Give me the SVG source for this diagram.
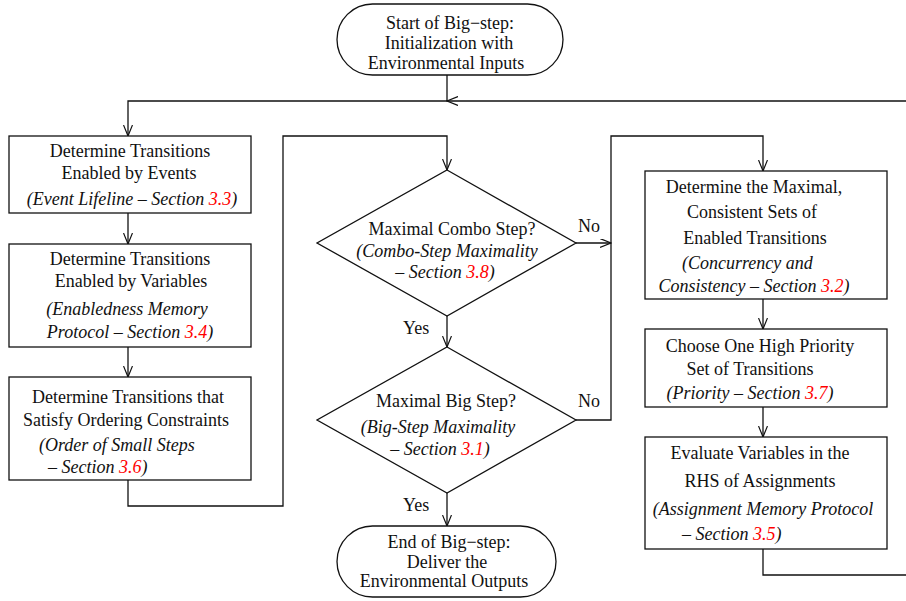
<svg xmlns="http://www.w3.org/2000/svg" width="906" height="601" viewBox="0 0 906 601">
<style>
.box{fill:#fff;stroke:#111;stroke-width:1.3}
.ln{fill:none;stroke:#111;stroke-width:1.3}
text{font-family:"Liberation Serif","Times New Roman",serif;font-size:18px;fill:#111}
.c{text-anchor:middle}
.i{font-style:italic}
.r{fill:#ff0000}
</style>
<defs>
<marker id="arr" markerUnits="userSpaceOnUse" markerWidth="12" markerHeight="10" refX="11" refY="4.5" orient="auto">
<path d="M0,0 L11,4.5 L0,9" fill="none" stroke="#111" stroke-width="1.2"/>
</marker>
</defs>
<rect width="906" height="601" fill="#fff"/>
<g id="connectors">
<path class="ln" d="M447,75 V101"/>
<path class="ln" d="M910,101 H447" marker-end="url(#arr)"/>
<path class="ln" d="M447,101 H128 V136" marker-end="url(#arr)"/>
<path class="ln" d="M128,213 V244" marker-end="url(#arr)"/>
<path class="ln" d="M128,347 V377" marker-end="url(#arr)"/>
<path class="ln" d="M128,480 V506 H283 V136 H447 V170" marker-end="url(#arr)"/>
<path class="ln" d="M447,316 V347" marker-end="url(#arr)"/>
<path class="ln" d="M576,243 H611" marker-end="url(#arr)"/>
<path class="ln" d="M576,420 H611 V136 H763 V171" marker-end="url(#arr)"/>
<path class="ln" d="M763,299 V329" marker-end="url(#arr)"/>
<path class="ln" d="M763,407 V437" marker-end="url(#arr)"/>
<path class="ln" d="M763,549 V575 H910"/>
<path class="ln" d="M447,493 V526" marker-end="url(#arr)"/>
<text x="578" y="232">No</text>
<text x="578" y="407">No</text>
<text x="403" y="334">Yes</text>
<text x="403" y="511">Yes</text>
</g>
<g id="start">
<rect class="box" x="337" y="4" width="226" height="71" rx="35.5"/>
<text class="c" x="450" y="29">Start of Big−step:</text>
<text class="c" x="449" y="49">Initialization with</text>
<text class="c" x="446" y="69">Environmental Inputs</text>
</g>
<g id="events">
<rect class="box" x="9" y="136" width="242" height="77"/>
<text class="c" x="130" y="157">Determine Transitions</text>
<text class="c" x="129" y="179">Enabled by Events</text>
<text class="c i" x="132" y="205">(Event Lifeline – Section <tspan class="r">3.3</tspan>)</text>
</g>
<g id="variables">
<rect class="box" x="9" y="244" width="242" height="103"/>
<text class="c" x="130" y="265">Determine Transitions</text>
<text class="c" x="131" y="287">Enabled by Variables</text>
<text class="c i" x="127" y="315">(Enabledness Memory</text>
<text class="c i" x="130" y="338">Protocol – Section <tspan class="r">3.4</tspan>)</text>
</g>
<g id="ordering">
<rect class="box" x="9" y="377" width="242" height="103"/>
<text class="c" x="128" y="403">Determine Transitions that</text>
<text class="c" x="126" y="426">Satisfy Ordering Constraints</text>
<text class="i" x="39" y="451">(Order of Small Steps</text>
<text class="i" x="48" y="473">– Section <tspan class="r">3.6</tspan>)</text>
</g>
<g id="combo">
<polygon class="box" points="447,170 576,243 447,316 317,243"/>
<text class="c" x="452" y="235">Maximal Combo Step?</text>
<text class="c i" x="447" y="257">(Combo-Step Maximality</text>
<text class="c i" x="445" y="278">– Section <tspan class="r">3.8</tspan>)</text>
</g>
<g id="bigstep">
<polygon class="box" points="447,347 576,420 447,493 317,420"/>
<text class="c" x="446" y="407">Maximal Big Step?</text>
<text class="c i" x="438" y="433">(Big-Step Maximality</text>
<text class="c i" x="440" y="455">– Section <tspan class="r">3.1</tspan>)</text>
</g>
<g id="end">
<rect class="box" x="337" y="526" width="219" height="71" rx="35.5"/>
<text class="c" x="449" y="548">End of Big−step:</text>
<text class="c" x="447" y="568">Deliver the</text>
<text class="c" x="444" y="587">Environmental Outputs</text>
</g>
<g id="maximal">
<rect class="box" x="645" y="171" width="242" height="128"/>
<text class="c" x="754" y="193">Determine the Maximal,</text>
<text class="c" x="752" y="218">Consistent Sets of</text>
<text class="c" x="755" y="244">Enabled Transitions</text>
<text class="i" x="682" y="269">(Concurrency and</text>
<text class="c i" x="754" y="292">Consistency – Section <tspan class="r">3.2</tspan>)</text>
</g>
<g id="priority">
<rect class="box" x="645" y="329" width="242" height="78"/>
<text class="c" x="760" y="352">Choose One High Priority</text>
<text class="c" x="750" y="375">Set of Transitions</text>
<text class="c i" x="750" y="399">(Priority – Section <tspan class="r">3.7</tspan>)</text>
</g>
<g id="evaluate">
<rect class="box" x="645" y="437" width="242" height="112"/>
<text class="c" x="760" y="459">Evaluate Variables in the</text>
<text class="c" x="760" y="487">RHS of Assignments</text>
<text class="c i" x="763" y="515">(Assignment Memory Protocol</text>
<text class="i" x="682" y="540">– Section <tspan class="r">3.5</tspan>)</text>
</g>
</svg>
